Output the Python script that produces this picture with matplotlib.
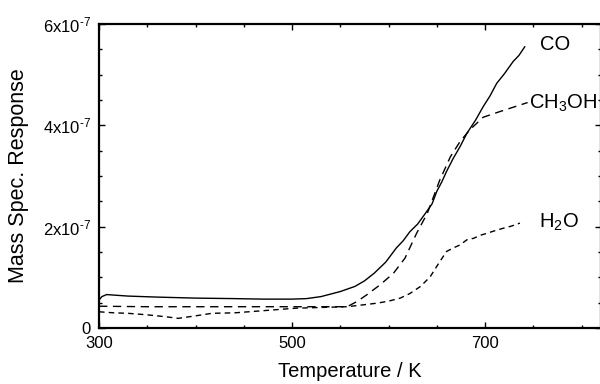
import matplotlib
matplotlib.use("Agg")
import matplotlib.pyplot as plt
from matplotlib.ticker import MultipleLocator

plt.rcParams['font.family'] = ['Liberation Sans', 'DejaVu Sans']
plt.rcParams['mathtext.fontset'] = 'custom'
plt.rcParams['mathtext.rm'] = 'Liberation Sans'
plt.rcParams['mathtext.it'] = 'Liberation Sans'

# Data (values in units of 1e-7)
co_T = [300, 303, 308, 315, 330, 360, 400, 440, 470, 500, 515, 530, 540, 550,
        565, 575, 585, 597, 608, 615, 622, 630, 638, 645, 650, 655, 660, 667,
        674, 681, 690, 698, 705, 712, 720, 729, 735, 741]
co_v = [0.55, 0.62, 0.66, 0.65, 0.63, 0.61, 0.59, 0.58, 0.57, 0.57, 0.58, 0.62, 0.67, 0.72,
        0.82, 0.93, 1.08, 1.30, 1.58, 1.72, 1.90, 2.05, 2.26, 2.45, 2.70, 2.88, 3.09, 3.35,
        3.58, 3.84, 4.10, 4.37, 4.58, 4.83, 5.02, 5.26, 5.38, 5.55]

ch3oh_T = [300, 350, 400, 450, 500, 530, 545, 557, 567, 577, 591, 605, 617, 629,
           640, 653, 664, 674, 684, 698, 715, 736, 744]
ch3oh_v = [0.43, 0.42, 0.42, 0.42, 0.42, 0.42, 0.42, 0.42, 0.52, 0.65, 0.85, 1.08, 1.38, 1.87,
           2.26, 2.92, 3.38, 3.68, 3.91, 4.16, 4.27, 4.40, 4.45]

h2o_T = [300, 315, 330, 350, 370, 382, 400, 417, 441, 469, 503, 538, 557, 575,
         588, 600, 612, 622, 633, 643, 652, 660, 667, 674, 681, 688, 695, 702,
         710, 719, 727, 736]
h2o_v = [0.32, 0.30, 0.29, 0.26, 0.22, 0.19, 0.24, 0.29, 0.30, 0.34, 0.39, 0.41, 0.42, 0.46,
         0.49, 0.53, 0.59, 0.68, 0.82, 1.01, 1.28, 1.51, 1.58, 1.64, 1.74, 1.77, 1.83, 1.87,
         1.92, 1.97, 2.01, 2.07]

labels = ["CO", "CH$_3$OH", "H$_2$O"]
label_T = [757, 745, 756]
label_v = [5.59, 4.44, 2.09]
xticks = [300, 500, 700]
yticks = [0, 2e-7, 4e-7, 6e-7]
yticklabels = ["0", r"2x10$^{\text{-}7}$", r"4x10$^{\text{-}7}$", r"6x10$^{\text{-}7}$"]

fig = plt.figure(figsize=(6, 3.84), dpi=100)
ax = fig.add_axes([99/600, 1-328/384, 502/600, 304/384])

sc = 1e-7
ax.plot(co_T, [v*sc for v in co_v], color='black', lw=1.0, ls='-')
ax.plot(ch3oh_T, [v*sc for v in ch3oh_v], color='black', lw=1.0, ls=(0, (6, 4)))
ax.plot(h2o_T, [v*sc for v in h2o_v], color='black', lw=1.0, ls=(0, (4, 3)))

for lab, t, v in zip(labels, label_T, label_v):
    ax.text(t, v*sc, lab, fontsize=14.5, va='center', ha='left')

ax.set_xlim(300, 820)
ax.set_ylim(0, 6e-7)
ax.set_xticks(xticks)
ax.set_xticklabels([str(t) for t in xticks], fontsize=12)
ax.set_yticks(yticks)
ax.set_yticklabels(yticklabels, fontsize=12)
ax.xaxis.set_minor_locator(MultipleLocator(50))
ax.yaxis.set_minor_locator(MultipleLocator(0.5e-7))
ax.tick_params(which='both', direction='in', top=True, right=True, width=1)
ax.tick_params(which='major', length=4.5, pad=6)
ax.tick_params(which='minor', length=2.5)
for s in ax.spines.values():
    s.set_linewidth(1.6)

ax.set_xlabel("Temperature / K", fontsize=14.5, labelpad=8)
ax.set_ylabel("Mass Spec. Response", fontsize=15.5, labelpad=10)

fig.savefig("out.png", dpi=100)
